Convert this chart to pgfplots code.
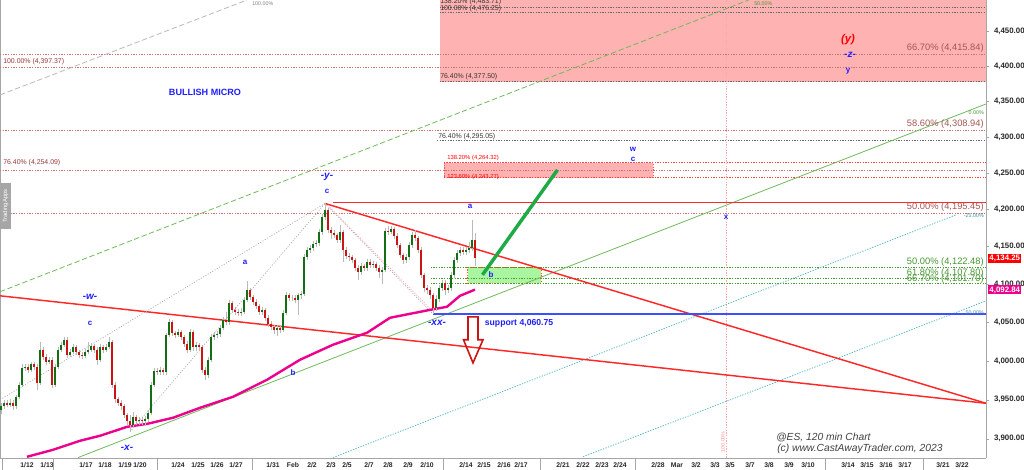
\documentclass[border=0pt]{standalone}
\usepackage{pgfplots}
\pgfplotsset{compat=1.18}
\usepackage{pgfplotstable}
\usepackage{fontspec}
\setmainfont{Liberation Sans}
\newcommand\fsz[1]{\fontsize{#1}{#1}\selectfont}
\definecolor{fibred}{RGB}{205,110,110}
\definecolor{fibtxt}{RGB}{150,55,55}
\definecolor{wave}{RGB}{30,30,255}
\definecolor{candup}{RGB}{20,110,20}
\definecolor{canddn}{RGB}{205,20,20}
\definecolor{trendred}{RGB}{255,40,40}
\definecolor{zonepink}{RGB}{255,178,178}
\definecolor{zonegreen}{RGB}{170,245,160}
\definecolor{cyanline}{RGB}{80,180,190}
\definecolor{fibgreen}{RGB}{70,150,50}
\definecolor{trendgreen}{RGB}{110,185,90}
\definecolor{arrowgreen}{RGB}{30,170,70}
\definecolor{supblue}{RGB}{60,80,255}

\pgfplotstableread{
x o h l c
1 3936 3945 3932 3941
4 3941 3949 3938 3946
7 3946 3949 3940 3943
10 3943 3950 3940 3946
13 3946 3949 3937 3941
16 3941 3956 3938 3953
19 3953 3972 3950 3969
22 3969 3995 3966 3991
25 3991 3996 3987 3992
28 3992 3995 3984 3988
31 3988 3998 3985 3995
34 3995 3998 3988 3992
37 3992 3995 3962 3971
40 3971 4024 3968 4014
43 4014 4017 4001 4005
46 4005 4008 3994 3998
49 3998 4005 3995 4001
52 4001 4004 3964 3969
55 3969 3995 3966 3992
58 3992 4018 3989 4014
61 4014 4024 4011 4020
64 4020 4031 4017 4027
67 4027 4030 4003 4007
70 4007 4015 4004 4011
73 4011 4021 4008 4017
76 4017 4020 4007 4011
79 4011 4014 4003 4007
82 4007 4011 4002 4006
85 4006 4015 4003 4011
88 4011 4024 4008 4014
91 4014 4023 4011 4019
94 4019 4022 4010 4014
97 4014 4017 3994 4001
100 4001 4021 3998 4017
103 4017 4020 4010 4014
106 4014 4022 4011 4018
109 4018 4031 4015 4024
112 4024 4027 3965 3969
115 3969 3972 3946 3950
118 3950 3953 3942 3946
121 3946 3949 3937 3941
124 3941 3944 3926 3930
127 3930 3933 3918 3922
130 3922 3930 3909 3918
133 3918 3934 3914 3927
136 3927 3930 3918 3922
139 3922 3928 3918 3924
142 3924 3927 3917 3922
145 3922 3929 3916 3925
148 3925 3937 3921 3933
151 3933 3972 3930 3969
154 3969 3990 3966 3987
157 3987 3990 3981 3985
160 3985 3992 3982 3988
163 3988 3991 3981 3985
166 3985 4036 3982 4033
169 4033 4054 4030 4050
172 4050 4053 4032 4036
175 4036 4039 4029 4033
178 4033 4041 4030 4037
181 4037 4040 4026 4030
184 4030 4033 4018 4022
187 4022 4025 4010 4014
190 4014 4041 4011 4037
193 4037 4040 4013 4017
196 4017 4024 4013 4020
199 4020 4023 4013 4017
202 4017 4020 3984 3988
205 3988 3992 3975 3982
208 3982 4005 3978 4001
211 4001 4034 3998 4031
214 4031 4037 4027 4033
217 4033 4038 4029 4034
220 4034 4047 4031 4043
223 4043 4057 4040 4053
226 4053 4063 4046 4050
229 4050 4079 4046 4075
232 4075 4078 4062 4066
235 4066 4070 4060 4064
238 4064 4067 4058 4062
241 4062 4068 4058 4064
244 4064 4083 4061 4079
247 4079 4104 4076 4092
250 4092 4095 4079 4083
253 4083 4086 4073 4077
256 4077 4080 4067 4071
259 4071 4074 4060 4064
262 4064 4070 4060 4066
265 4066 4069 4052 4056
268 4056 4059 4044 4048
271 4048 4051 4040 4044
274 4044 4047 4034 4040
277 4040 4047 4032 4043
280 4043 4046 4036 4040
283 4040 4066 4037 4062
286 4062 4090 4059 4086
289 4086 4089 4078 4082
292 4082 4086 4078 4082
295 4082 4085 4075 4079
298 4079 4089 4060 4085
301 4085 4091 4081 4087
304 4087 4140 4084 4136
307 4136 4150 4132 4146
310 4146 4152 4142 4148
313 4148 4158 4144 4154
316 4154 4159 4150 4155
319 4155 4174 4151 4170
322 4170 4194 4166 4190
325 4190 4208.5 4186 4200
328 4200 4203 4169 4173
331 4173 4176 4160 4169
334 4169 4172 4162 4166
337 4166 4169 4155 4159
340 4159 4180 4155 4170
343 4170 4173 4130 4146
346 4146 4149 4134 4138
349 4138 4141 4131 4136
352 4136 4139 4128 4132
355 4132 4135 4118 4122
358 4122 4125 4106 4116
361 4116 4128 4112 4124
364 4124 4127 4118 4122
367 4122 4134 4118 4130
370 4130 4133 4122 4126
373 4126 4131 4122 4127
376 4127 4130 4118 4122
379 4122 4125 4108 4116
382 4116 4123 4100 4119
385 4119 4175 4116 4171
388 4171 4178 4166 4170
391 4170 4178 4167 4174
394 4174 4177 4161 4165
397 4165 4168 4148 4152
400 4152 4155 4135 4139
403 4139 4142 4127 4132
406 4132 4140 4128 4136
409 4136 4156 4132 4152
412 4152 4170 4148 4166
415 4166 4173 4158 4162
418 4162 4165 4142 4146
421 4146 4149 4108 4112
424 4112 4115 4090 4095
427 4095 4099 4087 4092
430 4092 4096 4080 4086
433 4086 4089 4060.75 4069
436 4069 4085 4065 4081
439 4081 4099 4077 4095
442 4095 4106 4091 4102
445 4102 4105 4086 4092
448 4092 4099 4088 4095
451 4095 4116 4091 4112
454 4112 4136 4108 4132
457 4132 4146 4128 4142
460 4142 4150 4138 4146
463 4146 4149 4139 4143
466 4143 4150 4139 4146
469 4146 4156 4142 4148
472 4148 4186 4144 4159
475 4159 4168 4124 4134.25
}\candles

\begin{document}
\begin{tikzpicture}[x=1pt,y=1pt,
  wv/.style={text=wave, font=\fsz{6}\bfseries, inner sep=0pt},
  wvi/.style={text=wave, font=\fsz{7.5}\bfseries\itshape, inner sep=0pt},
  fibL/.style={font=\fsz{5.2}, anchor=west, inner sep=0pt},
  fibR/.style={font=\fsz{7}, anchor=east, inner sep=0pt},
  tiny/.style={font=\fsz{4}, inner sep=0pt},
  dotl/.style={line width=0.55pt, dash pattern=on 1pt off 1pt},
]
\path[use as bounding box] (0,0) rectangle (768,352.5);
\begin{axis}[
  at={(0pt,9pt)}, anchor=south west, scale only axis,
  width=739.5pt, height=343.5pt,
  xmin=0, xmax=986,
  % price axis is logarithmic: plotted position = 4100*ln(p/4100)+4100
  y coord trafo/.code={\pgfmathparse{max(#1,3000)}\pgfmathparse{4100*ln(\pgfmathresult/4100)+4100}},
  y coord inv trafo/.code={\pgfmathparse{4100*exp((#1-4100)/4100)}},
  ymin=3876.4, ymax=4494.8,
  clip=false,
  axis x line*=bottom, axis y line*=right,
  axis line style={gray!70, line width=0.6pt},
  tick align=outside, major tick length=2.5pt,
  ytick={3900,3950,4000,4050,4100,4150,4200,4250,4300,4350,4400,4450},
  yticklabels={{3,900.00},{3,950.00},{4,000.00},{4,050.00},{4,100.00},{4,150.00},{4,200.00},{4,250.00},{4,300.00},{4,350.00},{4,400.00},{4,450.00}},
  yticklabel style={font=\fsz{5.9}\bfseries, text=black!85},
  ytick style={gray!70, line width=0.5pt},
  xtick={27,47,86,105,125,140,178,198,217,236,273,293,312,331,347,369,388,408,427,466,484,504,521,563,583,602,620,658,677,696,715,730,750,769,789,808,848,867,886,905,943,962},
  xticklabels={1/12,1/13,1/17,1/18,1/19,1/20,1/24,1/25,1/26,1/27,1/31,Feb,2/2,2/3,2/5,2/7,2/8,2/9,2/10,2/14,2/15,2/16,2/17,2/21,2/22,2/23,2/24,2/28,Mar,3/2,3/3,3/5,3/7,3/8,3/9,3/10,3/14,3/15,3/16,3/17,3/21,3/22},
  xtick style={draw=none},
  xticklabel style={font=\fsz{5.1}\bfseries, text=black!85, yshift=2.4pt},
]
% zones
\addplot[fill=zonepink, draw=none, forget plot] coordinates {(439.6,4377.5) (986,4377.5) (986,4494.8) (439.6,4494.8)} -- cycle;
\addplot[fill=zonepink, draw=red!70, dotl, forget plot] coordinates {(444,4243.77) (653,4243.77) (653,4264.32) (444,4264.32)} -- cycle;
\addplot[fill=zonegreen, draw=orange!70!red, dotl, forget plot] coordinates {(467.5,4101.7) (541.4,4101.7) (541.4,4122.48) (467.5,4122.48)} -- cycle;
% left frame and vertical dotted
\addplot[gray!70, line width=0.5pt, forget plot] coordinates {(0,3876.4) (0,4494.8)};
\addplot[red!35, dotl, forget plot] coordinates {(726,3876.4) (726,4494.8)};
\pgfplotsinvokeforeach{2,53,157,252,443,540,635,825,923}{\draw[gray!70, line width=0.5pt] (axis cs:#1,3876.4) -- ++(0,-3pt);}
% fib horizontal lines
\addplot[fibred, dotl, forget plot] coordinates {(0,4415.84) (986,4415.84)};
\addplot[fibred, dotl, forget plot] coordinates {(0,4397.37) (986,4397.37)};
\addplot[fibred, dotl, forget plot] coordinates {(0,4308.94) (986,4308.94)};
\addplot[fibred, dotl, forget plot] coordinates {(0,4254.09) (986,4254.09)};
\addplot[fibred, dotl, forget plot] coordinates {(0,4195.45) (986,4195.45)};
\addplot[gray!80!black, dotl, forget plot] coordinates {(439.6,4483.71) (986,4483.71)};
\addplot[gray!80!black, dotl, forget plot] coordinates {(439.6,4476.25) (986,4476.25)};
\addplot[gray!80!black, dotl, forget plot] coordinates {(439.6,4377.5) (986,4377.5)};
\addplot[gray!80!black, dotl, forget plot] coordinates {(437,4295.05) (986,4295.05)};
\addplot[red!75, dotl, forget plot] coordinates {(444,4264.32) (986,4264.32)};
\addplot[red!75, dotl, forget plot] coordinates {(444,4243.77) (986,4243.77)};
\addplot[fibgreen, dotl, forget plot] coordinates {(430.7,4122.48) (986,4122.48)};
\addplot[fibgreen, dotl, forget plot] coordinates {(430.7,4107.80) (986,4107.80)};
\addplot[fibgreen, dotl, forget plot] coordinates {(430.7,4101.70) (986,4101.70)};
% diagonal channels
\addplot[gray!55, line width=0.6pt, dash pattern=on 4pt off 2pt, forget plot] coordinates {(0,4358.9) (247,4494.8)};
\addplot[trendgreen, line width=0.6pt, dash pattern=on 4pt off 2pt, forget plot] coordinates {(0,4090.0) (748.6,4494.8)};
\addplot[trendgreen, line width=0.6pt, forget plot] coordinates {(78,3876.4) (986,4346.2)};
\addplot[cyanline, dotl, forget plot] coordinates {(333,3876.4) (956,4193.0)};
\addplot[cyanline, dotl, forget plot] coordinates {(583,3877.4) (986,4078.1)};
\addplot[draw=trendred, line width=1.1pt, forget plot] coordinates {(0,4084.7) (986,3945)};
\addplot[draw=trendred, line width=1.1pt, forget plot] coordinates {(325,4208.5) (986,3945)};
\addplot[draw=trendred, line width=1.2pt, forget plot] coordinates {(333,4209.7) (986,4209.7)};
\addplot[supblue, line width=1.1pt, forget plot] coordinates {(433,4060.75) (986,4060.75)};
\addplot[gray!70, line width=0.5pt, dash pattern=on 0.8pt off 1.2pt, forget plot] coordinates {(0,3949.6) (325,4208.5)};
\addplot[gray!70, line width=0.5pt, dash pattern=on 0.8pt off 1.2pt, forget plot] coordinates {(130,3909) (325,4208.5)};
\addplot[gray!70, line width=0.5pt, dash pattern=on 0.8pt off 1.2pt, forget plot] coordinates {(325,4208.5) (433,4060.75)};
\addplot[red!40, line width=0.5pt, dash pattern=on 0.8pt off 1.2pt, forget plot] coordinates {(330,4203) (433,4064)};
% moving average
\addplot[magenta, line width=1.8pt, forget plot] coordinates {(27,3877.4) (53,3886.2) (80,3897.5) (100,3903.9) (127,3915.2) (147,3919.0) (173,3926.6) (200,3939.4) (233,3953.4) (267,3975.2) (300,4001.0) (333,4020.4) (367,4036.0) (390,4055.7) (430,4066.2) (447,4070.1) (460,4084.6) (475,4092.84)};
% candles: one wick and one body per row of the table
\pgfplotstablegetrowsof{\candles}
\pgfmathtruncatemacro\nrows{\pgfplotsretval-1}
\pgfplotsforeachungrouped \i in {0,...,\nrows}{%
  \pgfplotstablegetelem{\i}{x}\of\candles\let\cx\pgfplotsretval
  \pgfplotstablegetelem{\i}{o}\of\candles\let\co\pgfplotsretval
  \pgfplotstablegetelem{\i}{h}\of\candles\let\ch\pgfplotsretval
  \pgfplotstablegetelem{\i}{l}\of\candles\let\cl\pgfplotsretval
  \pgfplotstablegetelem{\i}{c}\of\candles\let\cc\pgfplotsretval
  \ifdim\co pt>\cc pt\def\ccol{canddn}\else\def\ccol{candup}\fi
  \edef\doit{\noexpand\addplot[gray!55, line width=0.5pt, forget plot] coordinates {(\cx,\cl) (\cx,\ch)};
    \noexpand\addplot[\ccol, line width=1.6pt, forget plot] coordinates {(\cx,\co) (\cx,\cc)};}%
  \doit
}
% thick green projection
\addplot[arrowgreen, line width=2.6pt, forget plot] coordinates {(482.5,4112.4) (557.5,4254.5)};
% red down arrow
\addplot[canddn, line width=1.2pt, line join=miter, forget plot] coordinates {(468,4057) (478,4057) (478,4027) (483,4027) (473,3997) (463.5,4027) (468,4027)} -- cycle;
% wave labels
\node[text=wave, font=\fsz{6.8}\bfseries] at (axis cs:205,4363.1) {BULLISH MICRO};
\node[wvi] at (axis cs:327,4244.9) {-y-};
\node[wv] at (axis cs:327,4225.6) {c};
\node[wv] at (axis cs:245,4128.4) {a};
\node[wvi] at (axis cs:90,4083.3) {-w-};
\node[wv] at (axis cs:90,4049.2) {c};
\node[wv] at (axis cs:293,3985.5) {b};
\node[wvi] at (axis cs:127,3888.7) {-x-};
\node[wv] at (axis cs:470,4205.2) {a};
\node[wv] at (axis cs:491,4112.4) {b};
\node[wvi] at (axis cs:437,4049.2) {-xx-};
\node[wv] at (axis cs:633,4283.4) {w};
\node[wv] at (axis cs:633,4269.6) {c};
\node[wv] at (axis cs:726,4188.9) {x};
\node[text=red, font=\fsz{8.5}\bfseries\itshape, inner sep=0pt] at (axis cs:848,4437.1) {(y)};
\node[wvi] at (axis cs:850,4415.8) {-z-};
\node[wv] at (axis cs:848,4392.8) {y};
\node[text=wave, font=\fsz{6.5}\bfseries, anchor=west, inner sep=0pt] at (axis cs:484.6,4049.2) {support 4,060.75};
% fib labels
\node[fibL, text=black!80] at (axis cs:440,4491.9) {138.20\% (4,483.71)};
\node[fibL, text=black!80] at (axis cs:440,4481.8) {100.00\% (4,476.25)};
\node[fibL, text=black!80] at (axis cs:440,4384.3) {76.40\% (4,377.50)};
\node[fibL, text=black!80] at (axis cs:438,4300.0) {76.40\% (4,295.05)};
\node[fibL, text=fibtxt] at (axis cs:3,4405.6) {100.00\% (4,397.37)};
\node[fibL, text=fibtxt] at (axis cs:3,4264.1) {76.40\% (4,254.09)};
\node[fibL, text=red, font=\fsz{4.4}] at (axis cs:447,4271.0) {138.20\% (4,264.32)};
\node[fibL, text=red, font=\fsz{4.4}] at (axis cs:447,4245.0) {123.60\% (4,243.77)};
\node[fibR, text=fibtxt!85] at (axis cs:984,4425.6) {66.70\% (4,415.84)};
\node[fibR, text=fibtxt!85] at (axis cs:984,4318.2) {58.60\% (4,308.94)};
\node[fibR, text=fibtxt!85] at (axis cs:984,4203.9) {50.00\% (4,195.45)};
\node[fibR, text=fibgreen] at (axis cs:984,4129.8) {50.00\% (4,122.48)};
\node[fibR, text=fibgreen] at (axis cs:984,4115.1) {61.80\% (4,107.80)};
\node[fibR, text=fibgreen] at (axis cs:984,4107.1) {66.70\% (4,101.70)};
\node[tiny, text=fibgreen, anchor=east] at (axis cs:984,4333.6) {0.00\%};
\node[tiny, text=cyanline!80!black, anchor=east] at (axis cs:984,4191.7) {-25.00\%};
\node[tiny, text=cyanline!80!black, anchor=east] at (axis cs:984,4063.6) {50.00\%};
\node[tiny, text=fibgreen, anchor=west] at (axis cs:754,4489) {50.00\%};
\node[tiny, text=gray, anchor=west] at (axis cs:252,4489) {100.00\%};
\node[tiny, text=red!40, rotate=90] at (axis cs:723,3897) {100.00\%};
% credits
\node[anchor=west, inner sep=0pt, font=\fsz{7.7}\itshape, text=black!75] at (axis cs:776,3902.6) {@ES, 120 min Chart};
\node[anchor=west, inner sep=0pt, font=\fsz{7.7}\itshape, text=black!75] at (axis cs:777,3887.5) {(c) www.CastAwayTrader.com, 2023};
\node[fill=gray!70, text=white, rotate=90, font=\fsz{4.5}, minimum width=34pt, minimum height=8pt, inner sep=0.5pt] at (axis cs:5.5,4205) {TradingApps};
% last price boxes
\node[fill=red, text=white, font=\fsz{5.9}\bfseries, anchor=west, inner sep=0.9pt, xshift=1.5pt] at (axis cs:986,4134.25) {4,134.25};
\node[fill=magenta, text=white, font=\fsz{5.9}\bfseries, anchor=west, inner sep=0.9pt, xshift=1.5pt] at (axis cs:986,4092.84) {4,092.84};
\end{axis}
\end{tikzpicture}
\end{document}
